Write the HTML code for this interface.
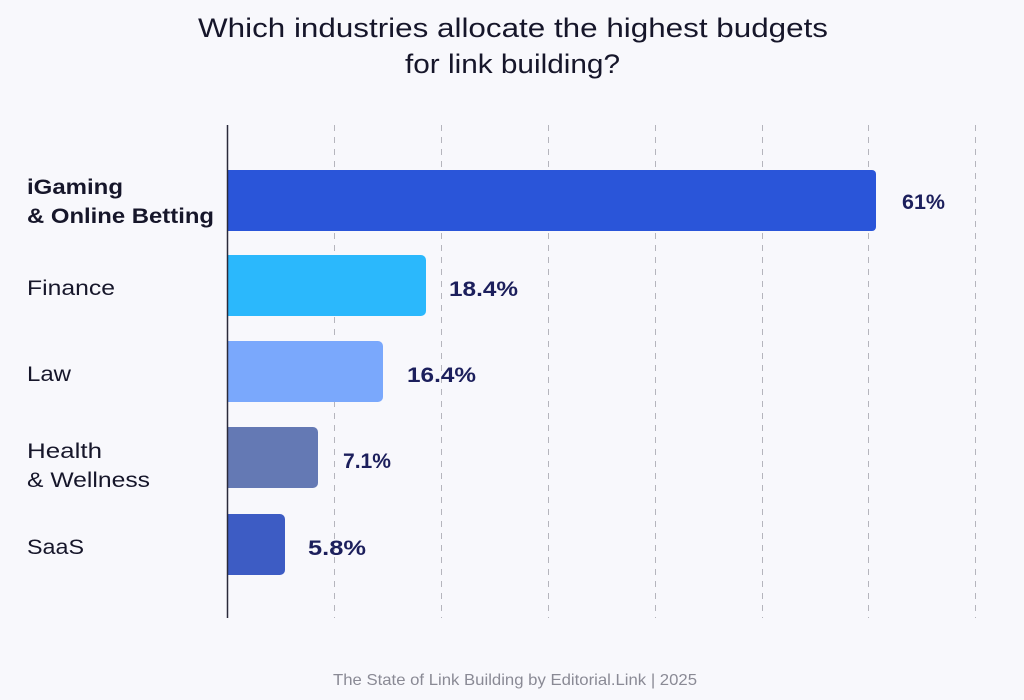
<!DOCTYPE html>
<html><head><meta charset="utf-8"><style>
html,body{margin:0;padding:0;background:#f8f8fc;}
body{width:1024px;height:700px;position:relative;overflow:hidden;font-family:"Liberation Sans",sans-serif;}
</style></head><body>
<svg width="1024" height="700" xmlns="http://www.w3.org/2000/svg" style="position:absolute;left:0;top:0">
<rect width="1024" height="700" fill="#f8f8fc"/>
<text x="198" y="37" textLength="630" lengthAdjust="spacingAndGlyphs" font-family="Liberation Sans" font-size="27" fill="#16162a">Which industries allocate the highest budgets</text>
<text x="405" y="73" textLength="215" lengthAdjust="spacingAndGlyphs" font-family="Liberation Sans" font-size="27" fill="#16162a">for link building?</text>
<g stroke="#b5b5bd" stroke-width="1" stroke-dasharray="6,6">
<line x1="334.5" y1="125" x2="334.5" y2="618"/>
<line x1="441.5" y1="125" x2="441.5" y2="618"/>
<line x1="548.5" y1="125" x2="548.5" y2="618"/>
<line x1="655.5" y1="125" x2="655.5" y2="618"/>
<line x1="762.5" y1="125" x2="762.5" y2="618"/>
<line x1="868.5" y1="125" x2="868.5" y2="618"/>
<line x1="975.5" y1="125" x2="975.5" y2="618"/>
</g>
<path d="M228 170 H872 a4 4 0 0 1 4 4 V227 a4 4 0 0 1 -4 4 H228Z" fill="#2a55d9"/>
<path d="M228 255 H421 a5 5 0 0 1 5 5 V311 a5 5 0 0 1 -5 5 H228Z" fill="#2bb8fc"/>
<path d="M228 341 H378 a5 5 0 0 1 5 5 V397 a5 5 0 0 1 -5 5 H228Z" fill="#7aa8fc"/>
<path d="M228 427 H313 a5 5 0 0 1 5 5 V483 a5 5 0 0 1 -5 5 H228Z" fill="#6479b4"/>
<path d="M228 514 H280 a5 5 0 0 1 5 5 V570 a5 5 0 0 1 -5 5 H228Z" fill="#3d5cc4"/>
<line x1="227.5" y1="125" x2="227.5" y2="618" stroke="#2a2a3a" stroke-width="1.5"/>
<g font-family="Liberation Sans" font-size="21" fill="#1c1f5c" font-weight="bold" lengthAdjust="spacingAndGlyphs">
<text x="902" y="209" textLength="43" lengthAdjust="spacingAndGlyphs">61%</text>
<text x="449" y="296" textLength="69" lengthAdjust="spacingAndGlyphs">18.4%</text>
<text x="407" y="382" textLength="69" lengthAdjust="spacingAndGlyphs">16.4%</text>
<text x="343" y="468" textLength="48" lengthAdjust="spacingAndGlyphs">7.1%</text>
<text x="308" y="555" textLength="58" lengthAdjust="spacingAndGlyphs">5.8%</text>
</g>
<g font-family="Liberation Sans" font-size="21" fill="#16162a">
<text x="27" y="194" font-weight="bold" textLength="96" lengthAdjust="spacingAndGlyphs">iGaming</text>
<text x="27" y="223" font-weight="bold" textLength="187" lengthAdjust="spacingAndGlyphs">&amp; Online Betting</text>
<text x="27" y="295" textLength="88" lengthAdjust="spacingAndGlyphs">Finance</text>
<text x="27" y="381" textLength="44" lengthAdjust="spacingAndGlyphs">Law</text>
<text x="27" y="458" textLength="75" lengthAdjust="spacingAndGlyphs">Health</text>
<text x="27" y="487" textLength="123" lengthAdjust="spacingAndGlyphs">&amp; Wellness</text>
<text x="27" y="554" textLength="57" lengthAdjust="spacingAndGlyphs">SaaS</text>
</g>
<text x="333" y="685" textLength="364" lengthAdjust="spacingAndGlyphs" font-family="Liberation Sans" font-size="16" fill="#8a8a95">The State of Link Building by Editorial.Link | 2025</text>
</svg>
</body></html>
